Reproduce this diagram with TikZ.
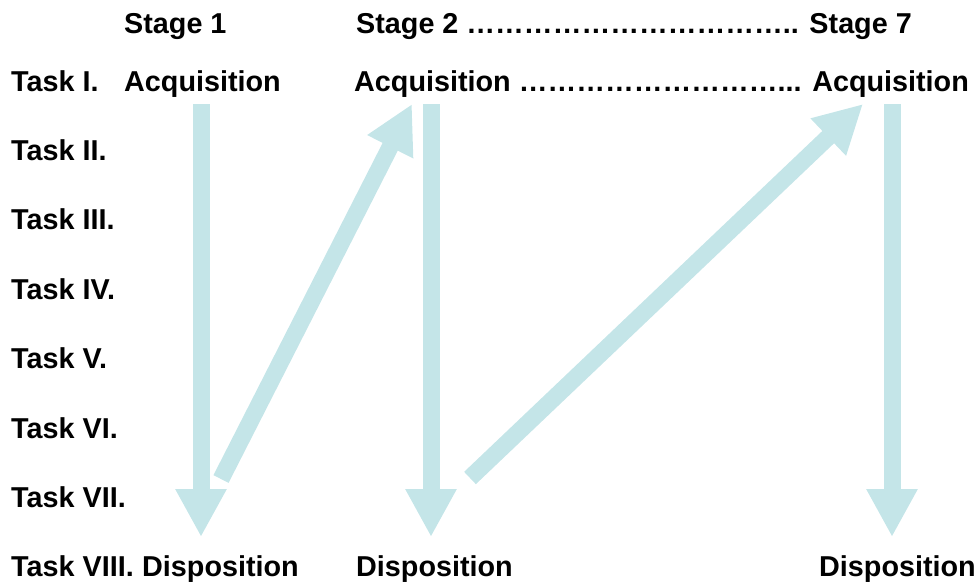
\documentclass[tikz,border=0pt]{standalone}
\usepackage{fontspec}
\setmainfont{Liberation Sans}
\usetikzlibrary{arrows.meta}
\definecolor{flow}{RGB}{196,229,232}
\begin{document}
\begin{tikzpicture}[x=1pt,y=-1pt,
  lbl/.style={anchor=base west, inner sep=0pt, font=\bfseries\fontsize{28.76pt}{34pt}\selectfont},
  flowarrow/.style={draw=flow, line width=17pt, line cap=butt, -{Triangle[width=48pt,length=48pt]}}]
\useasboundingbox (0,0) rectangle (977,581);
% arrows
\coordinate (d1s) at (201,104); \coordinate (d1e) at (201,537);
\coordinate (d2s) at (431,104); \coordinate (d2e) at (431,537);
\coordinate (d3s) at (892,104); \coordinate (d3e) at (892,537);
\coordinate (u1s) at (221,479); \coordinate (u1e) at (412,104);
\coordinate (u2s) at (470,478); \coordinate (u2e) at (863,104);
\draw[flowarrow] (d1s) -- (d1e);
\draw[flowarrow] (d2s) -- (d2e);
\draw[flowarrow] (d3s) -- (d3e);
\draw[flowarrow] (u1s) -- (u1e);
\draw[flowarrow] (u2s) -- (u2e);
% header
\node[lbl] (st1) at (124,33) {Stage 1};
\node[lbl] (st27) at (356,33) {Stage 2 \ldots\ldots\ldots\ldots\ldots\ldots\ldots\ldots\ldots\ldots\ldots.. Stage 7};
% task rows
\node[lbl] (t1) at (11,91) {Task I.};
\node[lbl] (t2) at (11,160.4) {Task II.};
\node[lbl] (t3) at (11,229.8) {Task III.};
\node[lbl] (t4) at (11,299.2) {Task IV.};
\node[lbl] (t5) at (11,368.6) {Task V.};
\node[lbl] (t6) at (11,438) {Task VI.};
\node[lbl] (t7) at (11,507.4) {Task VII.};
\node[lbl] (t8) at (11,576.8) {Task VIII.};
% acquisition row
\node[lbl] (a1) at (124,91) {Acquisition};
\node[lbl] (a27) at (354,91) {Acquisition \ldots\ldots\ldots\ldots\ldots\ldots\ldots\ldots\ldots... Acquisition};
% disposition row
\node[lbl] (p1) at (142,576.8) {Disposition};
\node[lbl] (p2) at (356,576.8) {Disposition};
\node[lbl] (p7) at (819,576.8) {Disposition};
\end{tikzpicture}
\end{document}
